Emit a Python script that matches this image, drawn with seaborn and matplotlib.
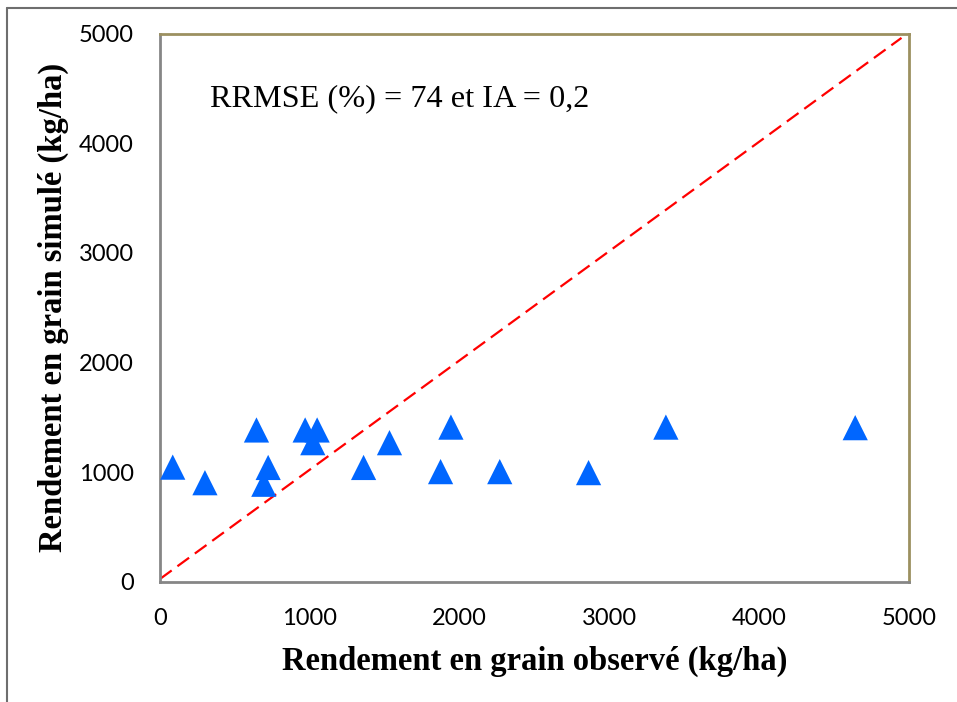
import numpy as np
import pandas as pd
import matplotlib
matplotlib.use("Agg")
import matplotlib.pyplot as plt
import seaborn as sns
from matplotlib.lines import Line2D

# Données (kg/ha)
observe = [85, 300, 644, 722, 693, 969, 1049, 1020, 1359, 1532,
           1942, 1873, 2268, 2861, 3377, 4641]
simule = [1045, 903, 1384, 1042, 889, 1384, 1384, 1268, 1042, 1268,
          1410, 1004, 1004, 995, 1410, 1405]

# Droite 1:1
ligne_x = [0, 4950]
ligne_y = [25, 4960]

ticks = [0, 1000, 2000, 3000, 4000, 5000]

df = pd.DataFrame({"observe": observe, "simule": simule})

sns.set_style("white")
plt.rcParams['font.family'] = ['Lato', 'DejaVu Sans']
plt.rcParams['text.color'] = 'black'
plt.rcParams['axes.labelcolor'] = 'black'

fig = plt.figure(figsize=(9.57, 7.02), dpi=100)
ax = fig.add_axes([160 / 957, 1 - 581.7 / 702, 749 / 957, 548.2 / 702])

sns.lineplot(x=ligne_x, y=ligne_y, ax=ax, color="#FF0000", linewidth=1.6,
             linestyle=(0, (6.5, 3.2)), zorder=1)
sns.scatterplot(data=df, x="observe", y="simule", ax=ax, marker="^",
                s=330, color="#0066FF", edgecolor="none", zorder=3)

ax.set_xlim(0, 5000)
ax.set_ylim(0, 5000)
ax.set_xticks(ticks)
ax.set_yticks(ticks)
ax.tick_params(axis="both", direction="out", length=6, width=1.5,
               color="#868686", labelsize=17, labelcolor="black")
ax.tick_params(axis="x", pad=13)
ax.tick_params(axis="y", length=7, pad=12)

for s in ["left", "bottom"]:
    ax.spines[s].set_color("#868686")
    ax.spines[s].set_linewidth(2)
for s in ["top", "right"]:
    ax.spines[s].set_color("#9C9060")
    ax.spines[s].set_linewidth(2)

ax.set_xlabel("Rendement en grain observé (kg/ha)", fontsize=23.5,
              fontweight="bold", family=["Liberation Serif"], labelpad=12)
ax.set_ylabel("Rendement en grain simulé (kg/ha)", fontsize=23.5,
              fontweight="bold", family=["Liberation Serif"], labelpad=7)

ax.text(210 / 957, 1 - 106.7 / 702, "RRMSE (%) = 74 et IA = 0,2",
        transform=fig.transFigure, fontsize=23.2, family=["Liberation Serif"],
        ha="left", va="baseline")

# Cadre extérieur du graphique
fig.add_artist(Line2D([7.5 / 957, 1.0], [1 - 7.5 / 702, 1 - 7.5 / 702],
                      transform=fig.transFigure, color="#6E6E6E", lw=1.5))
fig.add_artist(Line2D([7.5 / 957, 7.5 / 957], [0.0, 1 - 7.5 / 702],
                      transform=fig.transFigure, color="#6E6E6E", lw=1.5))

fig.savefig("out.png", dpi=100)
